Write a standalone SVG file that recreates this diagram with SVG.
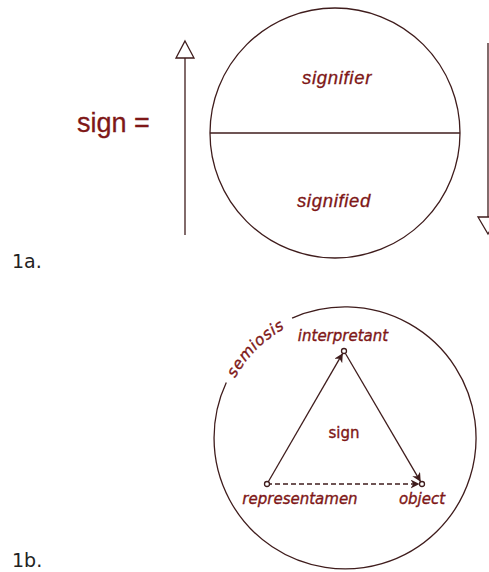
<svg xmlns="http://www.w3.org/2000/svg" width="489" height="572" viewBox="0 0 489 572">
<style>
.ln{fill:none;stroke:#3f1c1c;stroke-width:1.3}
.hd{fill:#fff;stroke:#3f1c1c;stroke-width:1.3}
.t{fill:#7e1717;stroke:#7e1717;stroke-width:0.35;font-family:"DejaVu Sans",Verdana,sans-serif}
.it{font-style:italic}
.ar{font-family:"Liberation Sans",Arial,sans-serif;fill:#7e1717;stroke:#7e1717;stroke-width:0.3}
.lbl{font-family:"DejaVu Sans",Verdana,sans-serif;fill:#222}
</style>
<defs>
<marker id="ah" viewBox="0 0 10 10" refX="10" refY="5" markerWidth="9" markerHeight="9" markerUnits="userSpaceOnUse" orient="auto">
<path d="M0,0 L10,5 L0,10 L3,5 Z" fill="#3f1c1c"/>
</marker>
<path id="arcS" d="M227.5,395.25 A125,125 0 0,1 302.25,320.5"/>
</defs>
<rect width="489" height="572" fill="#fff"/>
<g id="fig1a">
<g id="sign-label"><text class="ar" x="77" y="132" font-size="27">sign =</text></g>
<g id="circle1"><circle class="ln" cx="335" cy="133" r="125"/><line class="ln" x1="210" y1="133" x2="460" y2="133"/></g>
<g id="signifier"><text class="ar it" x="337" y="84" font-size="18.5" text-anchor="middle" letter-spacing="0.7">signifier</text></g>
<g id="signified"><text class="ar it" x="334" y="207" font-size="18.5" text-anchor="middle" letter-spacing="0.7">signified</text></g>
<g id="arrow-up"><line class="ln" x1="185" y1="58" x2="185" y2="235"/><path class="hd" d="M185,41 L194,58 L176,58 Z"/></g>
<g id="arrow-down"><line class="ln" x1="488" y1="43" x2="488" y2="217"/><path class="hd" d="M478,217 L498,217 L488,234 Z"/></g>
<text class="lbl" x="12" y="268" font-size="19">1a.</text>
</g>
<g id="fig1b">
<g id="semiosis">
<path class="ln" d="M292.1,318.1 A131,131 0 1,1 226.3,382.6"/>
<text class="t it" font-size="15.5" letter-spacing="0.6"><textPath href="#arcS" startOffset="50%" text-anchor="middle">semiosis</textPath></text>
</g>
<g id="connectors">
<line class="ln" x1="267" y1="484" x2="342.8" y2="353.2" marker-end="url(#ah)"/>
<line class="ln" x1="344" y1="351" x2="420.7" y2="481.8" marker-end="url(#ah)"/>
<line class="ln" x1="267" y1="484" x2="419.5" y2="484" stroke-dasharray="5,3" marker-end="url(#ah)"/>
</g>
<g id="interpretant"><circle class="hd" cx="344" cy="351" r="2.5"/><text class="t it" x="343" y="341" font-size="15" text-anchor="middle">interpretant</text></g>
<g id="representamen"><circle class="hd" cx="267" cy="484" r="2.5"/><text class="t it" x="300" y="504" font-size="15" text-anchor="middle">representamen</text></g>
<g id="object"><circle class="hd" cx="422" cy="484" r="2.5"/><text class="t it" x="422" y="504" font-size="15" text-anchor="middle">object</text></g>
<g id="sign"><text class="t" x="344" y="438" font-size="15" text-anchor="middle">sign</text></g>
<text class="lbl" x="12" y="567" font-size="19">1b.</text>
</g>
</svg>
